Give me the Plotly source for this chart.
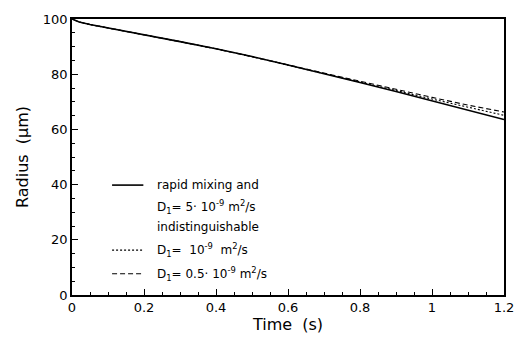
import plotly.graph_objects as go

time_s = [0, 0.02, 0.05, 0.1, 0.2, 0.3, 0.4, 0.5, 0.6, 0.7, 0.8, 0.9, 1.0, 1.1, 1.2]
radius_rapid = [100, 98.9, 98.0, 96.8, 94.3, 91.8, 89.2, 86.4, 83.3, 80.2, 77.0, 73.7, 70.4, 67.0, 63.6]
radius_d1e9 = [100, 98.9, 98.0, 96.8, 94.3, 91.8, 89.2, 86.4, 83.3, 80.3, 77.2, 74.1, 71.0, 68.0, 65.1]
radius_d05 = [100, 98.9, 98.0, 96.8, 94.3, 91.8, 89.2, 86.4, 83.4, 80.4, 77.4, 74.5, 71.6, 68.8, 66.3]

FONT = "DejaVu Sans"
fig = go.Figure()
fig.add_trace(go.Scatter(x=time_s, y=radius_rapid, mode="lines",
                         line=dict(color="black", width=1.6, dash="solid")))
fig.add_trace(go.Scatter(x=time_s, y=radius_d1e9, mode="lines",
                         line=dict(color="black", width=1.1, dash="2px,2px")))
fig.add_trace(go.Scatter(x=time_s, y=radius_d05, mode="lines",
                         line=dict(color="black", width=1.1, dash="5px,3px")))

axis_common = dict(showline=True, linecolor="black", linewidth=1.5, mirror=True,
                   ticks="inside", tickcolor="black", tickwidth=1.2,
                   showgrid=False, zeroline=False,
                   tickfont=dict(family=FONT, size=13, color="black"))
fig.update_xaxes(range=[0, 1.2], tickvals=[0, 0.2, 0.4, 0.6, 0.8, 1, 1.2],
                 ticktext=["0", "0.2", "0.4", "0.6", "0.8", "1", "1.2"],
                 ticklen=6,
                 minor=dict(dtick=0.05, ticks="inside", ticklen=3, tickcolor="black", tickwidth=1.2),
                 title=dict(text="Time  (s)", font=dict(family=FONT, size=16, color="black"),
                            standoff=4),
                 **axis_common)
fig.update_yaxes(range=[0, 100], tickvals=[0, 20, 40, 60, 80, 100],
                 ticklen=6,
                 minor=dict(dtick=5, ticks="inside", ticklen=3, tickcolor="black", tickwidth=1.2),
                 title=dict(text="Radius  (μm)", font=dict(family=FONT, size=16, color="black"),
                            standoff=10),
                 **axis_common)

# legend (inside plot)
leg_font = dict(family=FONT, size=12, color="black")
samples = [(186, "solid", 1.6), (252, "2px,2px", 1.1), (276, "5px,3px", 1.1)]
for ypx, dash, w in samples:
    yp = 1 - (ypx - 17.5) / 280
    fig.add_shape(type="line", xref="paper", yref="paper",
                  x0=(113 - 72) / 442, x1=(145 - 72) / 442, y0=yp, y1=yp,
                  line=dict(color="black", width=w, dash=dash))
texts = [(186, "rapid mixing and"),
         (208, "D<sub>1</sub>= 5· 10<sup>-9</sup> m<sup>2</sup>/s"),
         (229, "indistinguishable"),
         (252, "D<sub>1</sub>=  10<sup>-9</sup>  m<sup>2</sup>/s"),
         (276, "D<sub>1</sub>= 0.5· 10<sup>-9</sup> m<sup>2</sup>/s")]
for ypx, t in texts:
    fig.add_annotation(xref="paper", yref="paper", x=(157 - 72) / 442,
                       y=1 - (ypx - 17.5) / 280, text=t, showarrow=False,
                       xanchor="left", yanchor="middle", font=leg_font)

fig.update_layout(width=526, height=343, showlegend=False,
                  margin=dict(l=72, r=12, t=17, b=46),
                  plot_bgcolor="white", paper_bgcolor="white")
fig.write_html("out.html")
